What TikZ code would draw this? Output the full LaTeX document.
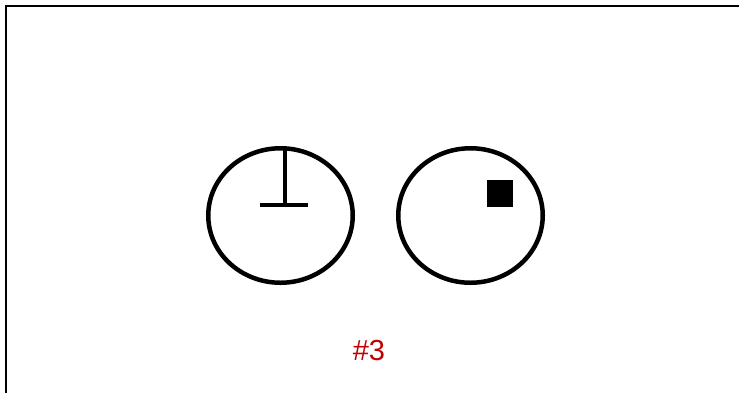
\documentclass[tikz,border=0pt]{standalone}
\usepackage{fontspec}
\setmainfont{Liberation Sans}
\usetikzlibrary{shapes.geometric}
\definecolor{labred}{HTML}{C00000}
\begin{document}
\begin{tikzpicture}[x=1pt,y=-1pt,
  shape line/.style={line width=4.5pt, draw=black},
  frame line/.style={line width=2pt, draw=black}]
\useasboundingbox (0,0) rectangle (739,392);
\draw[frame line] (6,400) -- (6,6) -- (745,6);
\node[ellipse, minimum width=144.5pt, minimum height=134.5pt, inner sep=0pt, shape line] (e1) at (280.5,215.5) {};
\node[ellipse, minimum width=144.5pt, minimum height=134.5pt, inner sep=0pt, shape line] (e2) at (470.5,215.5) {};
\coordinate (vt) at (285,148);
\coordinate (vb) at (285,205);
\coordinate (hl) at (260,205);
\coordinate (hr) at (308,205);
\draw[shape line] (vt) -- (vb);
\draw[shape line] (hl) -- (hr);
\node[fill=black, minimum width=26pt, minimum height=27pt, inner sep=0pt] (sq) at (500,193.5) {};
\node[text=labred, font=\fontsize{29}{32}\selectfont, inner sep=0pt] (lbl) at (369,351) {\#3};
\end{tikzpicture}
\end{document}
